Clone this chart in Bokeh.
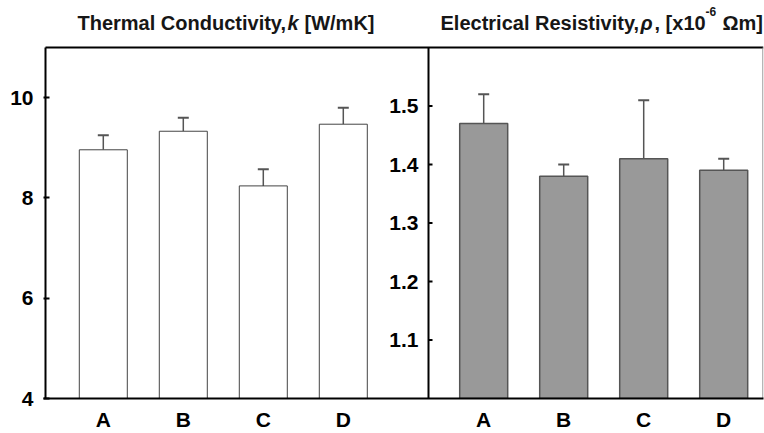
from bokeh.plotting import figure
from bokeh.models import Range1d, FixedTicker, ColumnDataSource, Whisker, TeeHead
from bokeh.core.properties import value
from bokeh.embed import file_html
from bokeh.resources import INLINE

# ---------------- data ----------------
categories = ["A", "B", "C", "D"]
thermal_k = [8.96, 9.33, 8.24, 9.47]
thermal_k_err = [0.29, 0.27, 0.33, 0.33]
resistivity = [1.47, 1.38, 1.41, 1.39]
resistivity_err = [0.05, 0.02, 0.10, 0.02]
k_ticks = [4, 6, 8, 10]
rho_ticks = [1.1, 1.2, 1.3, 1.4, 1.5]
k_range = (4, 11)
rho_range = (1.0, 1.6)

# ---------------- layout constants ----------------
PX_PER_SLOT = 80.0          # horizontal pixels per category slot
X_START, X_END = 0.2525, 9.2525
LEFT_EDGE = 0.2775          # left border of the boxed area
RIGHT_SHIFT = 4.755         # offset of the right panel's categories
DIVIDER = 5.065
BAR_W = 0.6
PLOT_H = 351.0              # boxed area height in px
TOP_PAD = 47.0              # px above the boxed area (titles)
FONT = "Liberation Sans"
LBL_SIZE = "21px"
TITLE_SIZE = "20px"

px_per_k = PLOT_H / (k_range[1] - k_range[0])
px_per_rho = PLOT_H / (rho_range[1] - rho_range[0])
k_view = (k_range[0], k_range[1] + TOP_PAD / px_per_k)
rho_view = (rho_range[0], rho_range[1] + TOP_PAD / px_per_rho)

x_left = [i + 1 for i in range(len(categories))]
x_right = [x + RIGHT_SHIFT for x in x_left]

p = figure(width=764, height=433,
           x_range=Range1d(X_START, X_END), y_range=Range1d(*k_view),
           min_border_left=43, min_border_right=1, min_border_top=0, min_border_bottom=35,
           output_backend="svg", toolbar_location=None)
p.extra_y_ranges = {"rho": Range1d(*rho_view)}
p.grid.visible = False
p.outline_line_color = None
p.background_fill_color = "white"
p.border_fill_color = "white"

# x axis (categories of both panels)
xa = p.xaxis[0]
xa.ticker = FixedTicker(ticks=x_left + x_right)
xa.major_label_overrides = {x: c for x, c in zip(x_left + x_right, categories * 2)}
xa.axis_line_width = 2
xa.axis_line_color = "black"
xa.major_tick_line_color = None
xa.major_tick_in = 0
xa.major_tick_out = 0
xa.minor_tick_line_color = None
xa.minor_tick_in = 0
xa.minor_tick_out = 0
xa.major_label_text_font = FONT
xa.major_label_text_font_style = "bold"
xa.major_label_text_font_size = LBL_SIZE
xa.major_label_text_color = "black"
xa.major_label_standoff = 9

# left y axis (thermal conductivity); its line is drawn as a border segment below
ya = p.yaxis[0]
ya.ticker = FixedTicker(ticks=k_ticks)
ya.axis_line_color = None
ya.major_tick_in = 6
ya.major_tick_out = 0
ya.major_tick_line_width = 2
ya.major_tick_line_color = "black"
ya.minor_tick_line_color = None
ya.minor_tick_in = 0
ya.minor_tick_out = 0
ya.major_label_text_font = FONT
ya.major_label_text_font_style = "bold"
ya.major_label_text_font_size = LBL_SIZE
ya.major_label_text_color = "black"
ya.major_label_standoff = 10

# box borders: left, divider, top (black) and thin grey right edge
p.segment(x0=[LEFT_EDGE, DIVIDER, LEFT_EDGE], x1=[LEFT_EDGE, DIVIDER, X_END],
          y0=[k_range[0], k_range[0], k_range[1]], y1=[k_range[1], k_range[1], k_range[1]],
          line_color="black", line_width=2)
p.segment(x0=[X_END - 0.6 / PX_PER_SLOT], x1=[X_END - 0.6 / PX_PER_SLOT],
          y0=[k_range[0]], y1=[k_range[1]], line_color="#888888", line_width=1)

# right-panel y ticks and labels
n = len(rho_ticks)
p.segment(x0=[DIVIDER] * n, x1=[DIVIDER + 4 / PX_PER_SLOT] * n, y0=rho_ticks, y1=rho_ticks,
          y_range_name="rho", line_color="black", line_width=2)
p.text(x=[DIVIDER] * n, y=rho_ticks, text=[f"{t:.1f}" for t in rho_ticks],
       x_offset=-10, text_align="right", text_baseline="middle",
       text_font=value(FONT), text_font_style="bold", text_font_size=LBL_SIZE,
       text_color="black", y_range_name="rho")

# bars
p.vbar(x=x_left, top=thermal_k, bottom=k_range[0], width=BAR_W,
       fill_color="white", line_color="#444444", line_width=1)
p.vbar(x=x_right, top=resistivity, bottom=rho_range[0], width=BAR_W,
       fill_color="#999999", line_color="#555555", line_width=1.5, y_range_name="rho")

# error bars (upper only)
src_k = ColumnDataSource(dict(x=x_left, top=thermal_k,
                              upper=[v + e for v, e in zip(thermal_k, thermal_k_err)]))
src_r = ColumnDataSource(dict(x=x_right, top=resistivity,
                              upper=[v + e for v, e in zip(resistivity, resistivity_err)]))
for src, yr in ((src_k, "default"), (src_r, "rho")):
    w = Whisker(source=src, base="x", lower="top", upper="upper", dimension="height",
                line_color="#555555", line_width=1.5,
                upper_head=TeeHead(size=11, line_color="#555555", line_width=2),
                lower_head=None, y_range_name=yr)
    p.add_layout(w)

# titles (pieces for mixed styles), drawn above the boxed area
TITLE_Y = k_range[1] + 25 / px_per_k

def title_piece(txt, page_x, dy=0, style="bold", size=TITLE_SIZE):
    p.text(x=[(page_x - 43) / PX_PER_SLOT + X_START], y=[TITLE_Y + dy / px_per_k], text=[txt],
           text_font=value(FONT), text_font_style=style, text_font_size=size,
           text_color="#161616", text_baseline="alphabetic", text_align="left")

title_piece("Thermal Conductivity,", 77)
title_piece("k", 287, style="bold italic")
title_piece("[W/mK]", 304)

title_piece("Electrical Resistivity,", 440)
title_piece("ρ", 640, style="bold italic")
title_piece(", [x10", 654)
title_piece("-6", 705, dy=11, size="12px")
title_piece("Ωm]", 722)

open("out.html", "w").write(file_html(p, INLINE))
